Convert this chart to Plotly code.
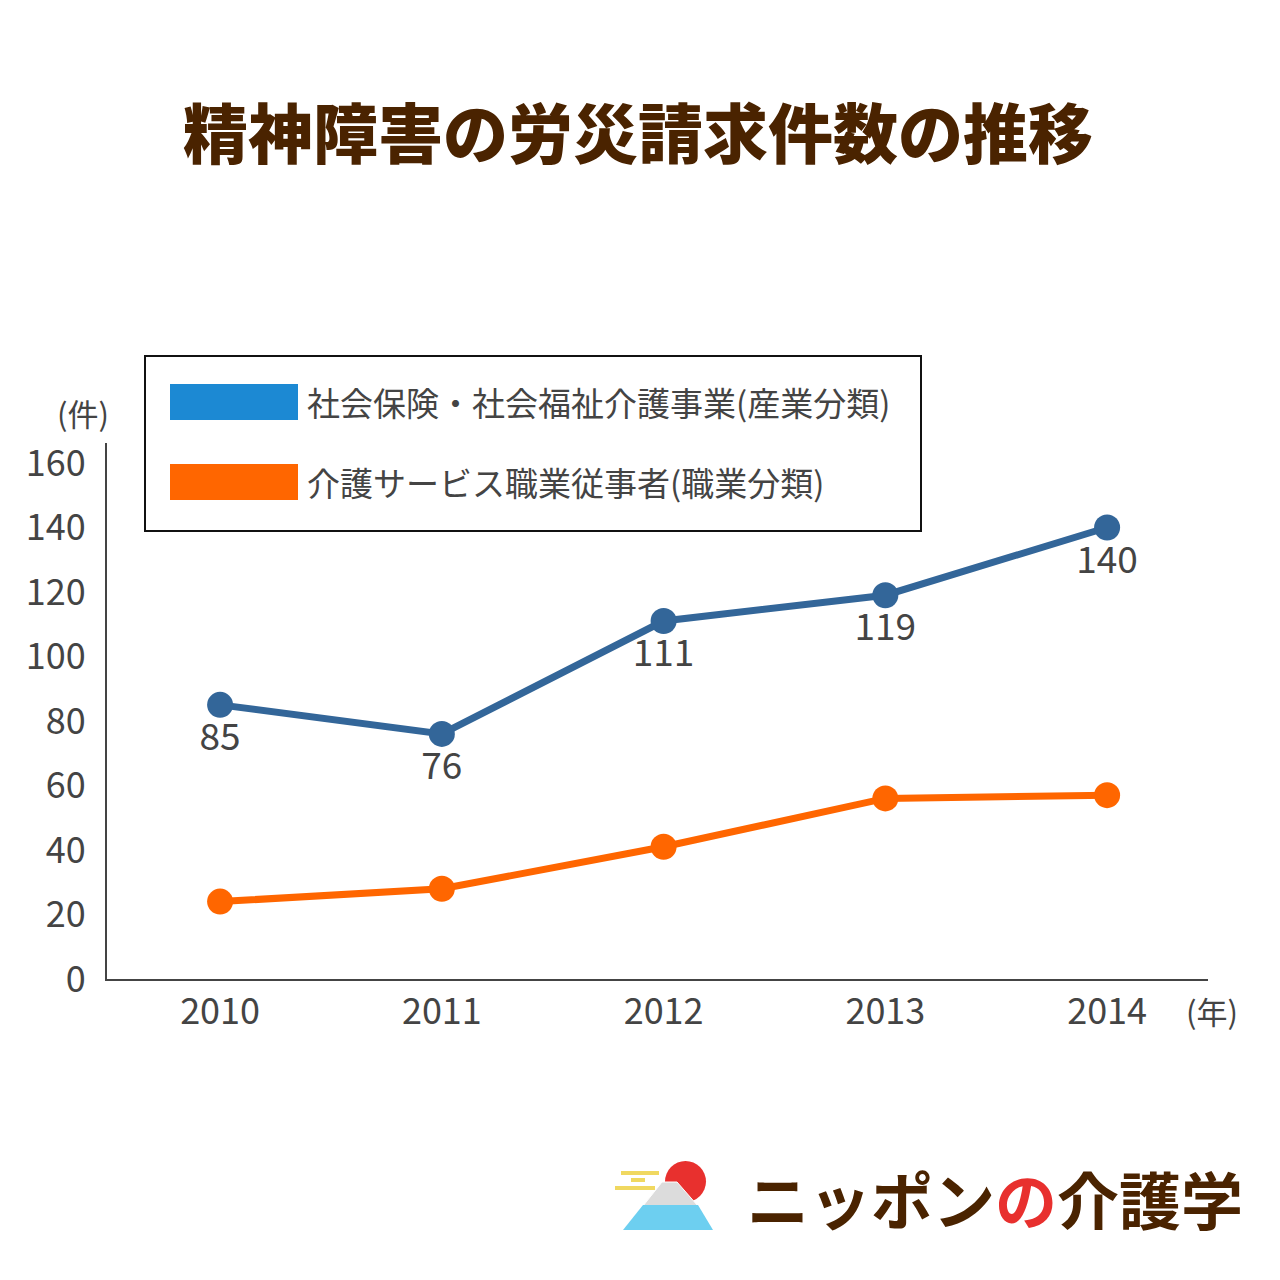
import plotly.graph_objects as go

years = [2010, 2011, 2012, 2013, 2014]
welfare_industry = [85, 76, 111, 119, 140]      # 社会保険・社会福祉介護事業(産業分類)
care_workers = [24, 28, 41, 56, 57]             # 介護サービス職業従事者(職業分類)
y_ticks = [0, 20, 40, 60, 80, 100, 120, 140, 160]
series_names = ["社会保険・社会福祉介護事業(産業分類)", "介護サービス職業従事者(職業分類)"]
title_text = "精神障害の労災請求件数の推移"

W = H = 1280
FONT = "Noto Sans CJK JP"
BROWN = "#4a2300"
TXT = "#444444"
LINE_BLUE = "#336699"
LEG_BLUE = "#1c89d3"
ORANGE = "#ff6600"

fig = go.Figure()
fig.add_trace(go.Scatter(
    x=years, y=welfare_industry, mode="lines+markers+text",
    name=series_names[0],
    line=dict(color=LINE_BLUE, width=7),
    marker=dict(color=LINE_BLUE, size=26),
    text=[str(v) for v in welfare_industry], textposition="bottom center",
    textfont=dict(family=FONT, size=37, color=TXT),
    cliponaxis=False,
))
fig.add_trace(go.Scatter(
    x=years, y=care_workers, mode="lines+markers",
    name=series_names[1],
    line=dict(color=ORANGE, width=7),
    marker=dict(color=ORANGE, size=26),
    cliponaxis=False,
))

L, R, T, B = 107, 1208, 443, 979

def px(x):
    return (x - L) / (R - L)

def py(y):
    return (B - y) / (B - T)

shapes = []
annotations = []

# Legend box
shapes.append(dict(type="rect", xref="paper", yref="paper",
                   x0=px(145), x1=px(921), y0=py(531), y1=py(356),
                   line=dict(color="#111111", width=2), fillcolor="white", layer="below"))
for i, (c, name) in enumerate([(LEG_BLUE, series_names[0]), (ORANGE, series_names[1])]):
    yc = 402 + i * 80
    shapes.append(dict(type="rect", xref="paper", yref="paper",
                       x0=px(170), x1=px(298), y0=py(yc + 18), y1=py(yc - 18),
                       line=dict(width=0), fillcolor=c))
    annotations.append(dict(text=name, xref="paper", yref="paper",
                            x=px(305), y=py(yc), xanchor="left", yanchor="middle",
                            showarrow=False, font=dict(family=FONT, size=33, color=TXT)))

# Title
annotations.append(dict(text=title_text, xref="paper", yref="paper",
                        x=px(638), y=py(130), xanchor="center", yanchor="middle",
                        showarrow=False,
                        font=dict(family=FONT, size=65, color=BROWN, weight=900)))
# Unit labels
annotations.append(dict(text="(件)", xref="paper", yref="paper",
                        x=px(83), y=py(413), xanchor="center", yanchor="middle",
                        showarrow=False, font=dict(family=FONT, size=31, color=TXT)))
annotations.append(dict(text="(年)", xref="paper", yref="paper",
                        x=px(1212), y=py(1010), xanchor="center", yanchor="middle",
                        showarrow=False, font=dict(family=FONT, size=31, color=TXT)))

# Logo
for (x0, x1, y) in [(621, 659, 1173), (631, 645, 1180), (615, 655, 1188)]:
    shapes.append(dict(type="line", xref="paper", yref="paper",
                       x0=px(x0), x1=px(x1), y0=py(y), y1=py(y),
                       line=dict(color="#f0d860", width=4)))
shapes.append(dict(type="circle", xref="paper", yref="paper",
                   x0=px(665), x1=px(706), y0=py(1202), y1=py(1161),
                   fillcolor="#e8302e", line=dict(width=0)))
def path(pts):
    return "M " + " L ".join(f"{px(a)},{py(b)}" for a, b in pts) + " Z"
shapes.append(dict(type="path", xref="paper", yref="paper",
                   path=path([(662, 1182), (677, 1182), (698, 1206), (643, 1206)]),
                   fillcolor="#dcdcdc", line=dict(color="white", width=1)))
shapes.append(dict(type="path", xref="paper", yref="paper",
                   path=path([(643, 1205), (698, 1205), (713, 1230), (623, 1230)]),
                   fillcolor="#6dcff0", line=dict(width=0)))
annotations.append(dict(
    text='ニッポン<span style="color:#e8302e">の</span>介護学',
    xref="paper", yref="paper", x=px(745), y=py(1198),
    xanchor="left", yanchor="middle", showarrow=False,
    font=dict(family=FONT, size=62, color=BROWN, weight="bold")))

fig.update_layout(
    width=W, height=H,
    paper_bgcolor="white", plot_bgcolor="white",
    showlegend=False,
    margin=dict(l=L, r=W - R, t=T, b=H - B, pad=0),
    font=dict(family=FONT, color=TXT),
    shapes=shapes, annotations=annotations,
    xaxis=dict(range=[2009.49, 2014.455], tickvals=years,
               ticktext=[str(y) for y in years],
               showgrid=False, zeroline=False,
               showline=True, linecolor=TXT, linewidth=2,
               ticks="", ticklabelstandoff=0,
               tickfont=dict(family=FONT, size=36, color=TXT)),
    yaxis=dict(range=[0, 166.2], tickvals=y_ticks,
               showgrid=False, zeroline=False,
               showline=True, linecolor=TXT, linewidth=2,
               ticks="", ticklabelstandoff=12,
               tickfont=dict(family=FONT, size=36, color=TXT)),
)

fig.write_html("out.html")
